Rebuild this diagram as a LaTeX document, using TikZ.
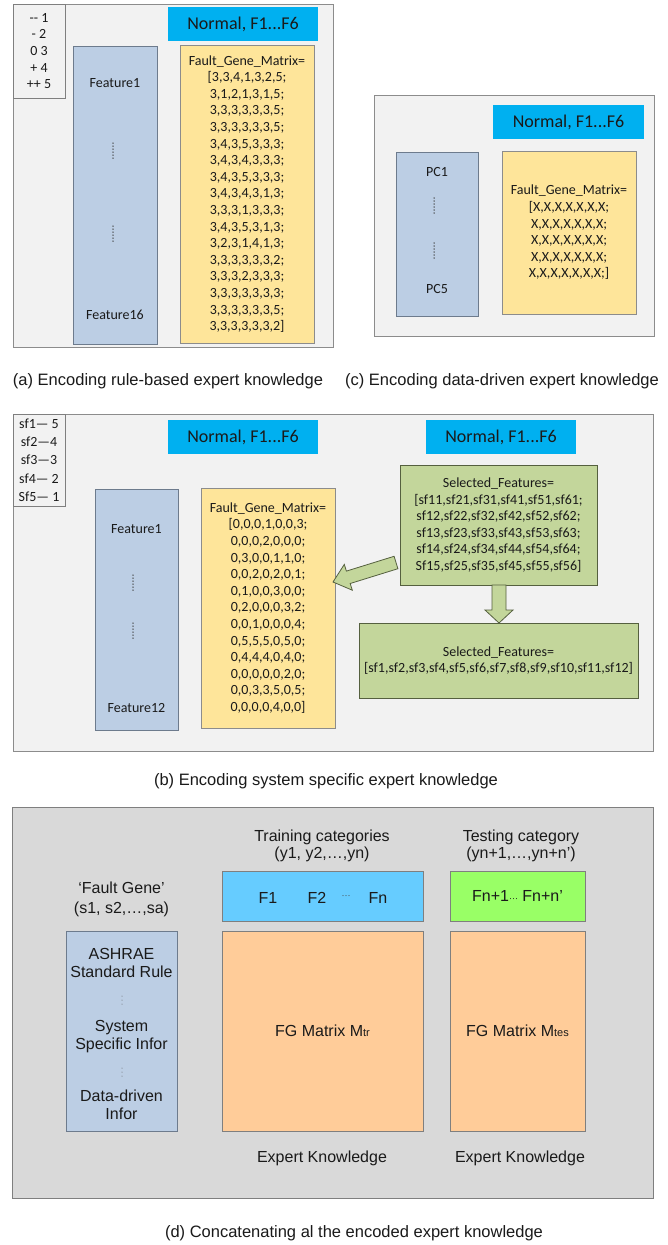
\documentclass[tikz,border=0pt]{standalone}
\usepackage{fontspec}
\setmainfont{Carlito}
\newfontfamily\arialf{Liberation Sans}
\definecolor{panelbg}{HTML}{F2F2F2}
\definecolor{panelline}{HTML}{8C8C8C}
\definecolor{hdrblue}{HTML}{00B0F0}
\definecolor{colblue}{HTML}{BCCEE4}
\definecolor{colline}{HTML}{6D7B8D}
\definecolor{yell}{HTML}{FEE59A}
\definecolor{yelline}{HTML}{8C8C8C}
\definecolor{grn}{HTML}{C3D69B}
\definecolor{grnline}{HTML}{55603F}
\definecolor{dbg}{HTML}{D9D9D9}
\definecolor{dline}{HTML}{7F7F7F}
\definecolor{skyb}{HTML}{66CCFF}
\definecolor{limeg}{HTML}{99FF66}
\definecolor{peach}{HTML}{FFCC99}
\definecolor{txt}{HTML}{1A1A1A}
\tikzset{
  box/.style={rectangle, inner sep=0pt, line width=0.8pt, text=txt, align=center},
  panel/.style={box, draw=panelline, fill=panelbg},
  dpanel/.style={box, draw=dline, fill=dbg},
  legbox/.style={box, draw=dline, fill=panelbg, font=\fontsize{14}{16.6}\selectfont},
  hdr/.style={box, fill=hdrblue, font=\fontsize{18}{20}\selectfont},
  colbox/.style={box, draw=colline, fill=colblue},
  ybox/.style={box, draw=yelline, fill=yell, font=\fontsize{14}{16.6}\selectfont},
  gbox/.style={box, draw=grnline, fill=grn, font=\fontsize{14}{16.6}\selectfont},
  lbl/.style={inner sep=0pt, text=txt, align=center, font=\fontsize{14}{16.6}\selectfont},
  dotl/.style={line width=1.5pt, line cap=round, dash pattern=on 0pt off 3pt, draw=txt!85},
  sdot/.style={line width=1pt, line cap=round, dash pattern=on 0pt off 4pt, draw=txt!70},
  blockarrow/.style={draw=grnline, fill=grn, line width=0.8pt, line join=miter},
  captxt/.style={inner sep=0pt, text=txt, font=\arialf\fontsize{16.5}{19}\selectfont},
  dlbl/.style={inner sep=0pt, text=txt, align=center, font=\arialf\fontsize{16}{18}\selectfont},
  dbox/.style={box, draw=dline, line width=0.8pt, font=\arialf\fontsize{16}{18}\selectfont},
}
\begin{document}
\begin{tikzpicture}[x=1pt,y=-1pt]
\useasboundingbox[fill=white] (0,0) rectangle (667,1245);

% ---------------- Panel (a) ----------------
\node[panel, minimum width=320pt, minimum height=343pt] (pa) at (173,175.5) {};
\node[legbox, minimum width=52pt, minimum height=94pt] (lega) at (39,51)
  {{-}{-} 1\\{-} 2\\0 3\\+ 4\\++ 5};
\node[hdr, minimum width=150pt, minimum height=34pt] (hdra) at (243,24) {Normal, F1...F6};
\node[colbox, minimum width=84pt, minimum height=298pt] (cola) at (115,195) {};
\node[lbl] (fa1) at (115,83) {Feature1};
\node[lbl] (fa16) at (115,315) {Feature16};
\draw[dotl] (113,143) -- (113,160);
\draw[dotl] (113,226) -- (113,243);
\node[ybox, minimum width=134pt, minimum height=298pt] (ya) at (247,194)
  {Fault\_Gene\_Matrix=\\{[}3,3,4,1,3,2,5;\\3,1,2,1,3,1,5;\\3,3,3,3,3,3,5;\\3,3,3,3,3,3,5;\\
   3,4,3,5,3,3,3;\\3,4,3,4,3,3,3;\\3,4,3,5,3,3,3;\\3,4,3,4,3,1,3;\\3,3,3,1,3,3,3;\\
   3,4,3,5,3,1,3;\\3,2,3,1,4,1,3;\\3,3,3,3,3,3,2;\\3,3,3,2,3,3,3;\\3,3,3,3,3,3,3;\\
   3,3,3,3,3,3,5;\\3,3,3,3,3,3,2{]}};
\node[captxt] (capa) at (168,381) {(a) Encoding rule-based expert knowledge};

% ---------------- Panel (c) ----------------
\node[panel, minimum width=280pt, minimum height=241pt] (pc) at (514,215.5) {};
\node[hdr, minimum width=151pt, minimum height=34pt] (hdrc) at (568.5,122) {Normal, F1...F6};
\node[colbox, minimum width=82pt, minimum height=164pt] (colc) at (437,234) {};
\node[lbl] (pc1) at (437,172) {PC1};
\node[lbl] (pc5) at (437,289) {PC5};
\draw[dotl] (434,198) -- (434,214);
\draw[dotl] (434,243) -- (434,259);
\node[ybox, minimum width=134pt, minimum height=163pt] (yc) at (569,232.5)
  {Fault\_Gene\_Matrix=\\{[}X,X,X,X,X,X,X;\\X,X,X,X,X,X,X;\\X,X,X,X,X,X,X;\\X,X,X,X,X,X,X;\\X,X,X,X,X,X,X;{]}};
\node[captxt] (capc) at (502,381) {(c) Encoding data-driven expert knowledge};

% ---------------- Panel (b) ----------------
\node[panel, minimum width=640pt, minimum height=337pt] (pb) at (333,582.5) {};
\node[legbox, minimum width=52pt, minimum height=92pt, font=\fontsize{14}{18.3}\selectfont] (legb) at (39,460)
  {sf1— 5\\sf2—4\\sf3—3\\sf4— 2\\Sf5— 1};
\node[hdr, minimum width=150pt, minimum height=34pt] (hdrb1) at (243,437) {Normal, F1...F6};
\node[hdr, minimum width=150pt, minimum height=34pt] (hdrb2) at (501,437) {Normal, F1...F6};
\node[colbox, minimum width=83pt, minimum height=241pt] (colb) at (136.5,609.5) {};
\node[lbl] (fb1) at (136.5,529) {Feature1};
\node[lbl] (fb12) at (136.5,708) {Feature12};
\draw[dotl] (133,575) -- (133,592);
\draw[dotl] (133,623) -- (133,640);
\node[ybox, minimum width=134pt, minimum height=240pt] (yb) at (268,608)
  {Fault\_Gene\_Matrix=\\{[}0,0,0,1,0,0,3;\\0,0,0,2,0,0,0;\\0,3,0,0,1,1,0;\\0,0,2,0,2,0,1;\\
   0,1,0,0,3,0,0;\\0,2,0,0,0,3,2;\\0,0,1,0,0,0,4;\\0,5,5,5,0,5,0;\\0,4,4,4,0,4,0;\\
   0,0,0,0,0,2,0;\\0,0,3,3,5,0,5;\\0,0,0,0,4,0,0{]}};
\node[gbox, minimum width=197pt, minimum height=120pt] (g1) at (498.5,525)
  {Selected\_Features=\\{[}sf11,sf21,sf31,sf41,sf51,sf61;\\sf12,sf22,sf32,sf42,sf52,sf62;\\
   sf13,sf23,sf33,sf43,sf53,sf63;\\sf14,sf24,sf34,sf44,sf54,sf64;\\Sf15,sf25,sf35,sf45,sf55,sf56{]}};
\node[gbox, minimum width=279pt, minimum height=75pt] (g2) at (498.5,660.5)
  {Selected\_Features=\\{[}sf1,sf2,sf3,sf4,sf5,sf6,sf7,sf8,sf9,sf10,sf11,sf12{]}};
% block arrows
\draw[blockarrow] (499,623) -- (513,610) -- (506,610) -- (506,585) -- (492,585) -- (492,610) -- (485,610) -- cycle;
\draw[blockarrow] (333,582) -- (352.3,590.2) -- (350.2,583.5) -- (397.9,568.7) -- (394.1,556.3) -- (346.4,571.1) -- (344.3,564.4) -- cycle;
\node[captxt] (capb) at (326,781) {(b) Encoding system specific expert knowledge};

% ---------------- Panel (d) ----------------
\node[dpanel, minimum width=641pt, minimum height=391pt] (pd) at (332.5,1002.5) {};
\node[dlbl, font=\arialf\fontsize{16}{17}\selectfont] (trl) at (322,846) {Training categories\\(y1, y2,…,yn)};
\node[dlbl, font=\arialf\fontsize{16}{17}\selectfont] (tel) at (521,846) {Testing category\\(yn+1,…,yn+n’)};
\node[dlbl, font=\arialf\fontsize{16}{20}\selectfont] (fgl) at (121.5,899) {‘Fault Gene’\\(s1, s2,…,sa)};
\node[dbox, fill=skyb, minimum width=201pt, minimum height=50pt] (bar1) at (322.5,896) {};
\node[dlbl] (f1) at (268,898) {F1};
\node[dlbl] (f2) at (317,898) {F2};
\node[dlbl, font=\arialf\fontsize{9}{10}\selectfont, text=txt!80] (fdots) at (346,897) {···};
\node[dlbl] (fn) at (378,898) {Fn};
\node[dbox, fill=limeg, minimum width=135pt, minimum height=50pt] (bar2) at (517.5,896)
  {Fn+1{\fontsize{9}{10}\selectfont ···} Fn+n’};
\node[dbox, fill=colblue, draw=colline, minimum width=111pt, minimum height=200pt] (cold) at (121.5,1031) {};
\node[dlbl] (ash) at (121.5,963) {ASHRAE\\Standard Rule};
\draw[sdot] (122,996) -- (122,1005);
\node[dlbl] (sys) at (121.5,1036.5) {System\\Specific Infor};
\draw[sdot] (122,1068) -- (122,1077);
\node[dlbl] (dd) at (121.5,1104.5) {Data-driven\\Infor};
\node[dbox, fill=peach, minimum width=201pt, minimum height=200pt] (or1) at (322.5,1031)
  {FG Matrix M{\fontsize{11}{12}\selectfont tr}};
\node[dbox, fill=peach, minimum width=135pt, minimum height=200pt] (or2) at (517.5,1031)
  {FG Matrix M{\fontsize{11}{12}\selectfont tes}};
\node[dlbl] (ek1) at (322,1158) {Expert Knowledge};
\node[dlbl] (ek2) at (520,1158) {Expert Knowledge};
\node[captxt] (capd) at (354,1233) {(d) Concatenating al the encoded expert knowledge};
\end{tikzpicture}
\end{document}
